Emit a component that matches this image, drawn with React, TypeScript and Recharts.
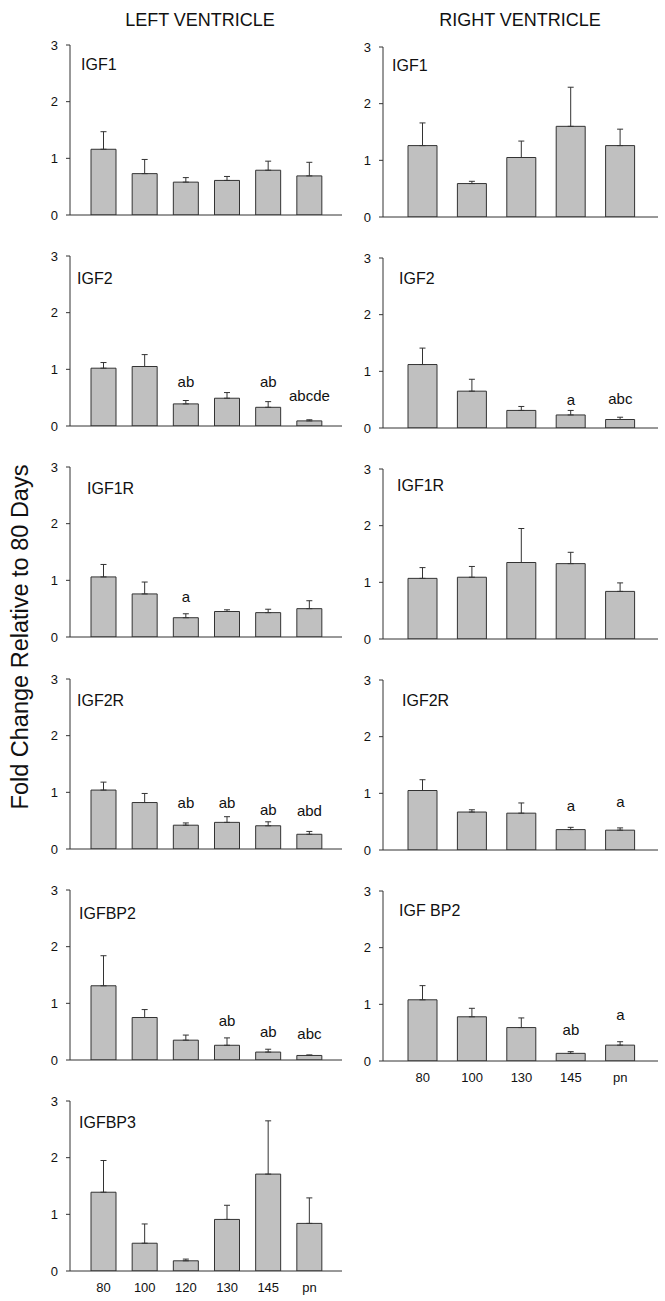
import React from "react";
import { BarChart, Bar, XAxis, YAxis, ErrorBar, ReferenceDot } from "recharts";

const lvCategories = ["80", "100", "120", "130", "145", "pn"];
const rvCategories = ["80", "100", "130", "145", "pn"];
const yTicks = [0, 1, 2, 3];

// LEFT VENTRICLE
const lvIgf1Values = [1.16, 0.73, 0.58, 0.61, 0.79, 0.69];
const lvIgf1Errors = [0.31, 0.25, 0.08, 0.07, 0.16, 0.24];

const lvIgf2Values = [1.02, 1.05, 0.39, 0.49, 0.33, 0.09];
const lvIgf2Errors = [0.1, 0.21, 0.06, 0.1, 0.1, 0.02];
const lvIgf2Sig = ["", "", "ab", "", "ab", "abcde"];
const lvIgf2SigY = [0, 0, 0.78, 0, 0.78, 0.54];

const lvIgf1rValues = [1.06, 0.76, 0.34, 0.45, 0.43, 0.5];
const lvIgf1rErrors = [0.22, 0.21, 0.07, 0.03, 0.06, 0.14];
const lvIgf1rSig = ["", "", "a", "", "", ""];
const lvIgf1rSigY = [0, 0, 0.72, 0, 0, 0];

const lvIgf2rValues = [1.04, 0.82, 0.42, 0.47, 0.41, 0.26];
const lvIgf2rErrors = [0.14, 0.16, 0.04, 0.1, 0.07, 0.05];
const lvIgf2rSig = ["", "", "ab", "ab", "ab", "abd"];
const lvIgf2rSigY = [0, 0, 0.82, 0.81, 0.69, 0.68];

const lvIgfbp2Values = [1.31, 0.75, 0.35, 0.26, 0.14, 0.08];
const lvIgfbp2Errors = [0.53, 0.14, 0.09, 0.13, 0.05, 0.01];
const lvIgfbp2Sig = ["", "", "", "ab", "ab", "abc"];
const lvIgfbp2SigY = [0, 0, 0, 0.69, 0.5, 0.47];

const lvIgfbp3Values = [1.39, 0.49, 0.18, 0.91, 1.71, 0.84];
const lvIgfbp3Errors = [0.56, 0.34, 0.03, 0.25, 0.94, 0.45];

// RIGHT VENTRICLE
const rvIgf1Values = [1.26, 0.59, 1.05, 1.6, 1.26];
const rvIgf1Errors = [0.4, 0.04, 0.29, 0.69, 0.29];

const rvIgf2Values = [1.12, 0.65, 0.31, 0.23, 0.15];
const rvIgf2Errors = [0.29, 0.21, 0.07, 0.08, 0.04];
const rvIgf2Sig = ["", "", "", "a", "abc"];
const rvIgf2SigY = [0, 0, 0, 0.5, 0.52];

const rvIgf1rValues = [1.07, 1.09, 1.35, 1.33, 0.84];
const rvIgf1rErrors = [0.19, 0.19, 0.6, 0.2, 0.15];

const rvIgf2rValues = [1.05, 0.67, 0.65, 0.36, 0.35];
const rvIgf2rErrors = [0.19, 0.04, 0.18, 0.04, 0.04];
const rvIgf2rSig = ["", "", "", "a", "a"];
const rvIgf2rSigY = [0, 0, 0, 0.78, 0.86];

const rvIgfbp2Values = [1.08, 0.78, 0.59, 0.135, 0.28];
const rvIgfbp2Errors = [0.25, 0.15, 0.17, 0.03, 0.06];
const rvIgfbp2Sig = ["", "", "", "ab", "a"];
const rvIgfbp2SigY = [0, 0, 0, 0.56, 0.81];

const AX = "#333";
const TXT = "#111";
const FONT = "'Liberation Sans', Arial, sans-serif";

type PanelProps = {
  x: number;
  y: number;
  w: number;
  cats: string[];
  values: number[];
  errors: number[];
  sig?: string[];
  sigY?: number[];
  name: string;
  nameDx: number;
  nameDy: number;
  showTicks: boolean;
  padL: number;
  padR: number;
  barSize: number;
};

function Panel(p: PanelProps) {
  const data = p.cats.map((c, i) => ({ cat: c, v: p.values[i], err: [0, p.errors[i]] }));
  const W = 40 + p.w + 4;
  const H = 10 + 170 + 30;
  return (
    <div style={{ position: "absolute", left: p.x - 40, top: p.y - 10, width: W, height: H }}>
      <BarChart width={W} height={H} data={data} margin={{ top: 10, right: 4, left: 0, bottom: 0 }}>
        <XAxis
          dataKey="cat"
          height={30}
          padding={{ left: p.padL, right: p.padR }}
          tickLine={false}
          tickSize={0}
          tickMargin={12}
          interval={0}
          tick={p.showTicks ? { fontSize: 13, fill: TXT } : false}
          axisLine={{ stroke: AX }}
        />
        <XAxis
          xAxisId="top"
          dataKey="cat"
          orientation="top"
          height={0}
          tick={false}
          tickLine={false}
          axisLine={{ stroke: AX }}
        />
        <YAxis
          domain={[0, 3]}
          ticks={yTicks}
          interval={0}
          allowDataOverflow
          width={40}
          tickSize={4}
          tickMargin={8}
          tick={{ fontSize: 13, fill: TXT }}
          tickLine={{ stroke: AX }}
          axisLine={{ stroke: AX }}
        />
        <YAxis
          yAxisId="right"
          orientation="right"
          domain={[0, 3]}
          width={0}
          tick={false}
          tickLine={false}
          axisLine={{ stroke: AX }}
        />
        <Bar dataKey="v" fill="#c0c0c0" stroke={AX} strokeWidth={1} barSize={p.barSize} isAnimationActive={false}>
          <ErrorBar dataKey="err" width={3} stroke={AX} strokeWidth={1} direction="y" isAnimationActive={false} />
        </Bar>
        {(p.sig || []).map((s, i) =>
          s ? (
            <ReferenceDot
              key={i}
              x={p.cats[i]}
              y={(p.sigY || [])[i]}
              r={1}
              fill="none"
              stroke="none"
              label={{ value: s, position: "center", fontSize: 15, fill: TXT }}
            />
          ) : null
        )}
      </BarChart>
      <div
        style={{
          position: "absolute",
          left: 40 + p.nameDx - 1,
          top: 10 + p.nameDy - 2,
          fontSize: 16,
          lineHeight: 1,
          color: TXT,
          whiteSpace: "nowrap",
        }}
      >
        {p.name}
      </div>
    </div>
  );
}

const LX = 70;
const LW = 272;
const RX = 383;
const RW = 275;
const leftTops = [45, 256, 467, 679, 890, 1101];
const rightTops = [47, 258, 469, 680, 891];

export default function App() {
  const lvCommon = { x: LX, w: LW, cats: lvCategories, padL: 13, padR: 12, barSize: 25 };
  const rvCommon = { x: RX, w: RW, cats: rvCategories, padL: 15, padR: 13, barSize: 29 };
  return (
    <div
      style={{
        position: "absolute",
        left: 0,
        top: 0,
        width: 665,
        height: 1301,
        background: "#fff",
        fontFamily: FONT,
        color: TXT,
        overflow: "hidden",
      }}
    >
      <div style={{ position: "absolute", left: 50, width: 300, top: 11, textAlign: "center", fontSize: 18, lineHeight: 1 }}>
        LEFT VENTRICLE
      </div>
      <div style={{ position: "absolute", left: 370, width: 300, top: 11, textAlign: "center", fontSize: 18, lineHeight: 1 }}>
        RIGHT VENTRICLE
      </div>
      <div
        style={{
          position: "absolute",
          left: 21,
          top: 637,
          transform: "translate(-50%, -50%) rotate(-90deg)",
          whiteSpace: "nowrap",
          fontSize: 23.5,
          lineHeight: 1,
        }}
      >
        Fold Change Relative to 80 Days
      </div>

      <Panel {...lvCommon} y={leftTops[0]} values={lvIgf1Values} errors={lvIgf1Errors} name="IGF1" nameDx={12} nameDy={14} showTicks={false} />
      <Panel {...lvCommon} y={leftTops[1]} values={lvIgf2Values} errors={lvIgf2Errors} sig={lvIgf2Sig} sigY={lvIgf2SigY} name="IGF2" nameDx={8} nameDy={17} showTicks={false} />
      <Panel {...lvCommon} y={leftTops[2]} values={lvIgf1rValues} errors={lvIgf1rErrors} sig={lvIgf1rSig} sigY={lvIgf1rSigY} name="IGF1R" nameDx={18} nameDy={16} showTicks={false} />
      <Panel {...lvCommon} y={leftTops[3]} values={lvIgf2rValues} errors={lvIgf2rErrors} sig={lvIgf2rSig} sigY={lvIgf2rSigY} name="IGF2R" nameDx={8} nameDy={16} showTicks={false} />
      <Panel {...lvCommon} y={leftTops[4]} values={lvIgfbp2Values} errors={lvIgfbp2Errors} sig={lvIgfbp2Sig} sigY={lvIgfbp2SigY} name="IGFBP2" nameDx={10} nameDy={18} showTicks={false} />
      <Panel {...lvCommon} y={leftTops[5]} values={lvIgfbp3Values} errors={lvIgfbp3Errors} name="IGFBP3" nameDx={10} nameDy={16} showTicks={true} />

      <Panel {...rvCommon} y={rightTops[0]} values={rvIgf1Values} errors={rvIgf1Errors} name="IGF1" nameDx={10} nameDy={13} showTicks={false} />
      <Panel {...rvCommon} y={rightTops[1]} values={rvIgf2Values} errors={rvIgf2Errors} sig={rvIgf2Sig} sigY={rvIgf2SigY} name="IGF2" nameDx={17} nameDy={15} showTicks={false} />
      <Panel {...rvCommon} y={rightTops[2]} values={rvIgf1rValues} errors={rvIgf1rErrors} name="IGF1R" nameDx={15} nameDy={11} showTicks={false} />
      <Panel {...rvCommon} y={rightTops[3]} values={rvIgf2rValues} errors={rvIgf2rErrors} sig={rvIgf2rSig} sigY={rvIgf2rSigY} name="IGF2R" nameDx={20} nameDy={15} showTicks={false} />
      <Panel {...rvCommon} y={rightTops[4]} values={rvIgfbp2Values} errors={rvIgfbp2Errors} sig={rvIgfbp2Sig} sigY={rvIgfbp2SigY} name="IGF BP2" nameDx={17} nameDy={14} showTicks={true} />
    </div>
  );
}
